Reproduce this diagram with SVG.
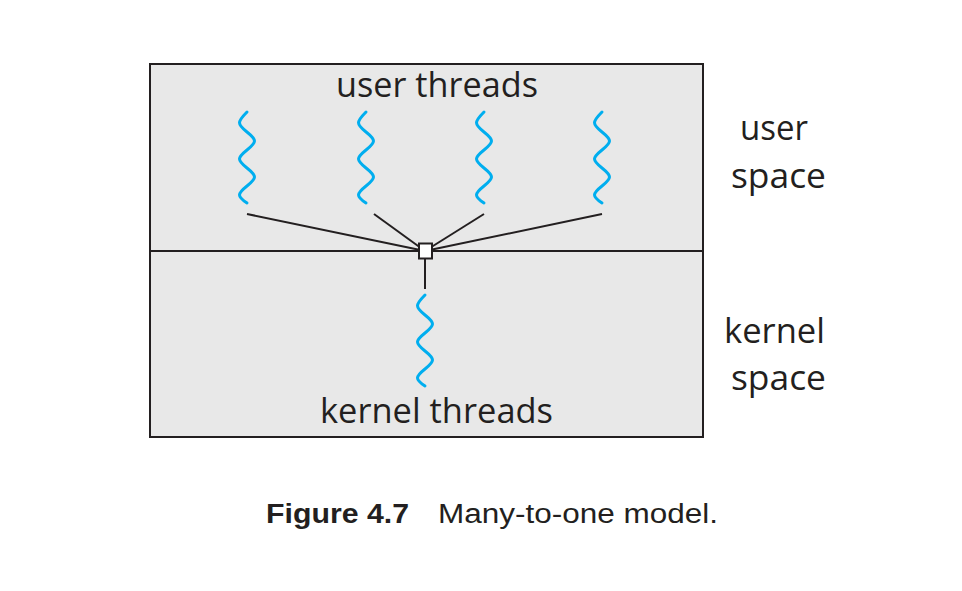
<svg xmlns="http://www.w3.org/2000/svg" width="962" height="591" viewBox="0 0 962 591">
<style>
.lbl{font-family:"Open Sans","Liberation Sans",sans-serif;font-size:34px;fill:#231f20}
.cap{font-family:"Liberation Sans",Arial,sans-serif;font-size:27px;fill:#231f20}
.wave{fill:none;stroke:#00aeef;stroke-width:3;stroke-linecap:round}
.ln{stroke:#231f20;stroke-width:2;fill:none}
</style>
<defs>
<path id="w" d="M0,0 C-10,10 -10,12 0,20 S10,30 0,38 S-10,48 0,56 S10,66 0,74 S-10,84 0,91"/>
</defs>
<rect x="150" y="64" width="553" height="373" fill="#e8e8e8" stroke="#231f20" stroke-width="2"/>
<line x1="150" y1="251" x2="703" y2="251" class="ln"/>
<g id="user-threads">
<use href="#w" x="247" y="112" class="wave"/>
<use href="#w" x="366" y="112" class="wave"/>
<use href="#w" x="484" y="112" class="wave"/>
<use href="#w" x="602" y="112" class="wave"/>
</g>
<g id="kernel-thread">
<use href="#w" x="425" y="295" class="wave"/>
</g>
<g id="connectors">
<line x1="247" y1="214" x2="425" y2="251" class="ln"/>
<line x1="374" y1="214" x2="425" y2="251" class="ln"/>
<line x1="484" y1="214" x2="425" y2="251" class="ln"/>
<line x1="602" y1="214" x2="425" y2="251" class="ln"/>
<line x1="425" y1="251" x2="425" y2="289" class="ln"/>
</g>
<g id="mapper">
<rect x="419" y="243.5" width="13" height="15" fill="#fff" stroke="#231f20" stroke-width="2"/>
</g>
<text class="lbl" x="336" y="97" textLength="202" lengthAdjust="spacingAndGlyphs">user threads</text>
<text class="lbl" x="320" y="423" textLength="233" lengthAdjust="spacingAndGlyphs">kernel threads</text>
<text class="lbl" x="740" y="140" textLength="68" lengthAdjust="spacingAndGlyphs">user</text>
<text class="lbl" x="731" y="188" textLength="95" lengthAdjust="spacingAndGlyphs">space</text>
<text class="lbl" x="724" y="343" textLength="101" lengthAdjust="spacingAndGlyphs">kernel</text>
<text class="lbl" x="731" y="390" textLength="95" lengthAdjust="spacingAndGlyphs">space</text>
<text class="cap" x="266" y="523" font-weight="bold" textLength="143" lengthAdjust="spacingAndGlyphs">Figure 4.7</text>
<text class="cap" x="438" y="523" textLength="280" lengthAdjust="spacingAndGlyphs">Many-to-one model.</text>
</svg>
